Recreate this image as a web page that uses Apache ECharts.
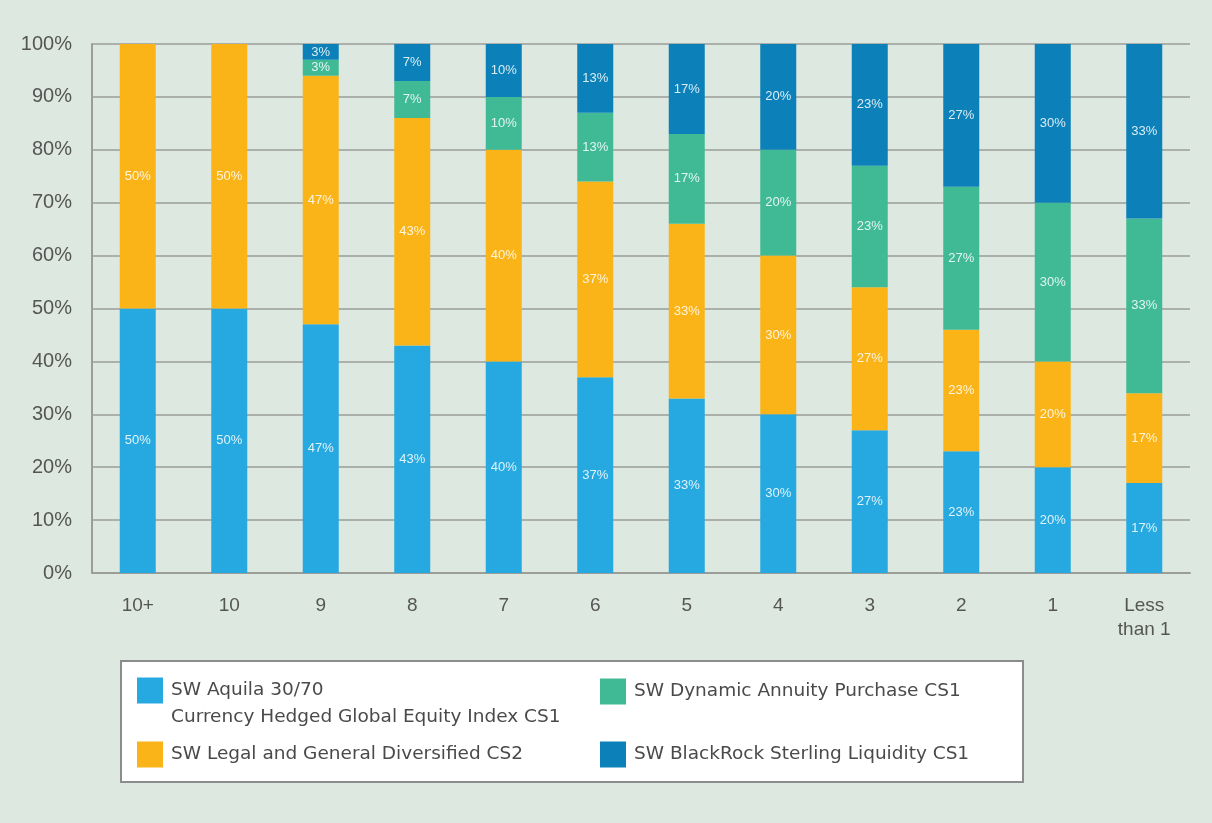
<!DOCTYPE html>
<html>
<head>
<meta charset="utf-8">
<script src="https://cdn.jsdelivr.net/npm/echarts@6/dist/echarts.min.js"></script>
<style>
  html, body { margin: 0; padding: 0; background: #dde9e0; }
  #chart { width: 1212px; height: 823px; }
</style>
</head>
<body>
<div id="chart"></div>
<script>
const categories = ['10+', '10', '9', '8', '7', '6', '5', '4', '3', '2', '1', 'Less\nthan 1']
const yTicks = [0, 10, 20, 30, 40, 50, 60, 70, 80, 90, 100]
const aquila = [50, 50, 47, 43, 40, 37, 33, 30, 27, 23, 20, 17]
const legal = [50, 50, 47, 43, 40, 37, 33, 30, 27, 23, 20, 17]
const dynamic = [0, 0, 3, 7, 10, 13, 17, 20, 23, 27, 30, 33]
const blackrock = [0, 0, 3, 7, 10, 13, 17, 20, 23, 27, 30, 33]

const names = [
  'SW Aquila 30/70\nCurrency Hedged Global Equity Index CS1',
  'SW Legal and General Diversified CS2',
  'SW Dynamic Annuity Purchase CS1',
  'SW BlackRock Sterling Liquidity CS1'
]
const colors = ['#26a9e0', '#fbb417', '#3fba95', '#0b80b9']
const font = 'Liberation Sans'

const chart = echarts.init(document.getElementById('chart'))

function bar(name, data) {
  return {
    name: name,
    type: 'bar',
    stack: 'total',
    barWidth: 36,
    data: data,
    label: {
      show: true,
      position: 'inside',
      color: 'rgba(255,255,255,0.85)',
      fontFamily: font,
      fontSize: 13,
      formatter: p => (p.value === 0 ? '' : p.value + '%')
    }
  }
}

// one legend per item so the two columns line up like the original box
function legendAt(name, left, top, fmt) {
  return {
    data: [name],
    left: left,
    top: top,
    padding: 0,
    orient: 'vertical',
    icon: 'rect',
    itemWidth: 26,
    itemHeight: 26,
    selectedMode: false,
    formatter: fmt || '{name}',
    textStyle: { fontFamily: 'DejaVu Sans', fontSize: 18.5, color: '#4a4a4a', lineHeight: 27, padding: [0, 0, 0, 3] }
  }
}

chart.setOption({
  backgroundColor: '#dde9e0',
  color: colors,
  animation: false,
  graphic: [{
    type: 'rect',
    left: 120,
    top: 660,
    shape: { width: 902, height: 121 },
    style: { fill: '#ffffff', stroke: '#8c8c8c', lineWidth: 2 },
    z: -1
  }],
  legend: [
    legendAt(names[0], 137, 650, '\n{name}'),
    legendAt(names[1], 137, 741),
    legendAt(names[2], 600, 678),
    legendAt(names[3], 600, 741)
  ],
  grid: { left: 92, right: 22, top: 44, bottom: 250 },
  xAxis: {
    type: 'category',
    data: categories,
    axisLine: { lineStyle: { color: '#9a9d98', width: 2 } },
    axisTick: { show: false },
    axisLabel: { color: '#555', fontFamily: font, fontSize: 19, margin: 21, lineHeight: 24 }
  },
  yAxis: {
    type: 'value',
    min: yTicks[0],
    max: yTicks[yTicks.length - 1],
    interval: 10,
    axisLine: { show: true, lineStyle: { color: '#9a9d98', width: 2 } },
    axisTick: { show: false },
    splitLine: { lineStyle: { color: '#9a9d98', width: 1.5 } },
    axisLabel: { color: '#555', fontFamily: font, fontSize: 20, margin: 20, formatter: '{value}%' }
  },
  series: [
    bar(names[0], aquila),
    bar(names[1], legal),
    bar(names[2], dynamic),
    bar(names[3], blackrock)
  ]
})
window.addEventListener('resize', () => chart.resize())
</script>
</body>
</html>
